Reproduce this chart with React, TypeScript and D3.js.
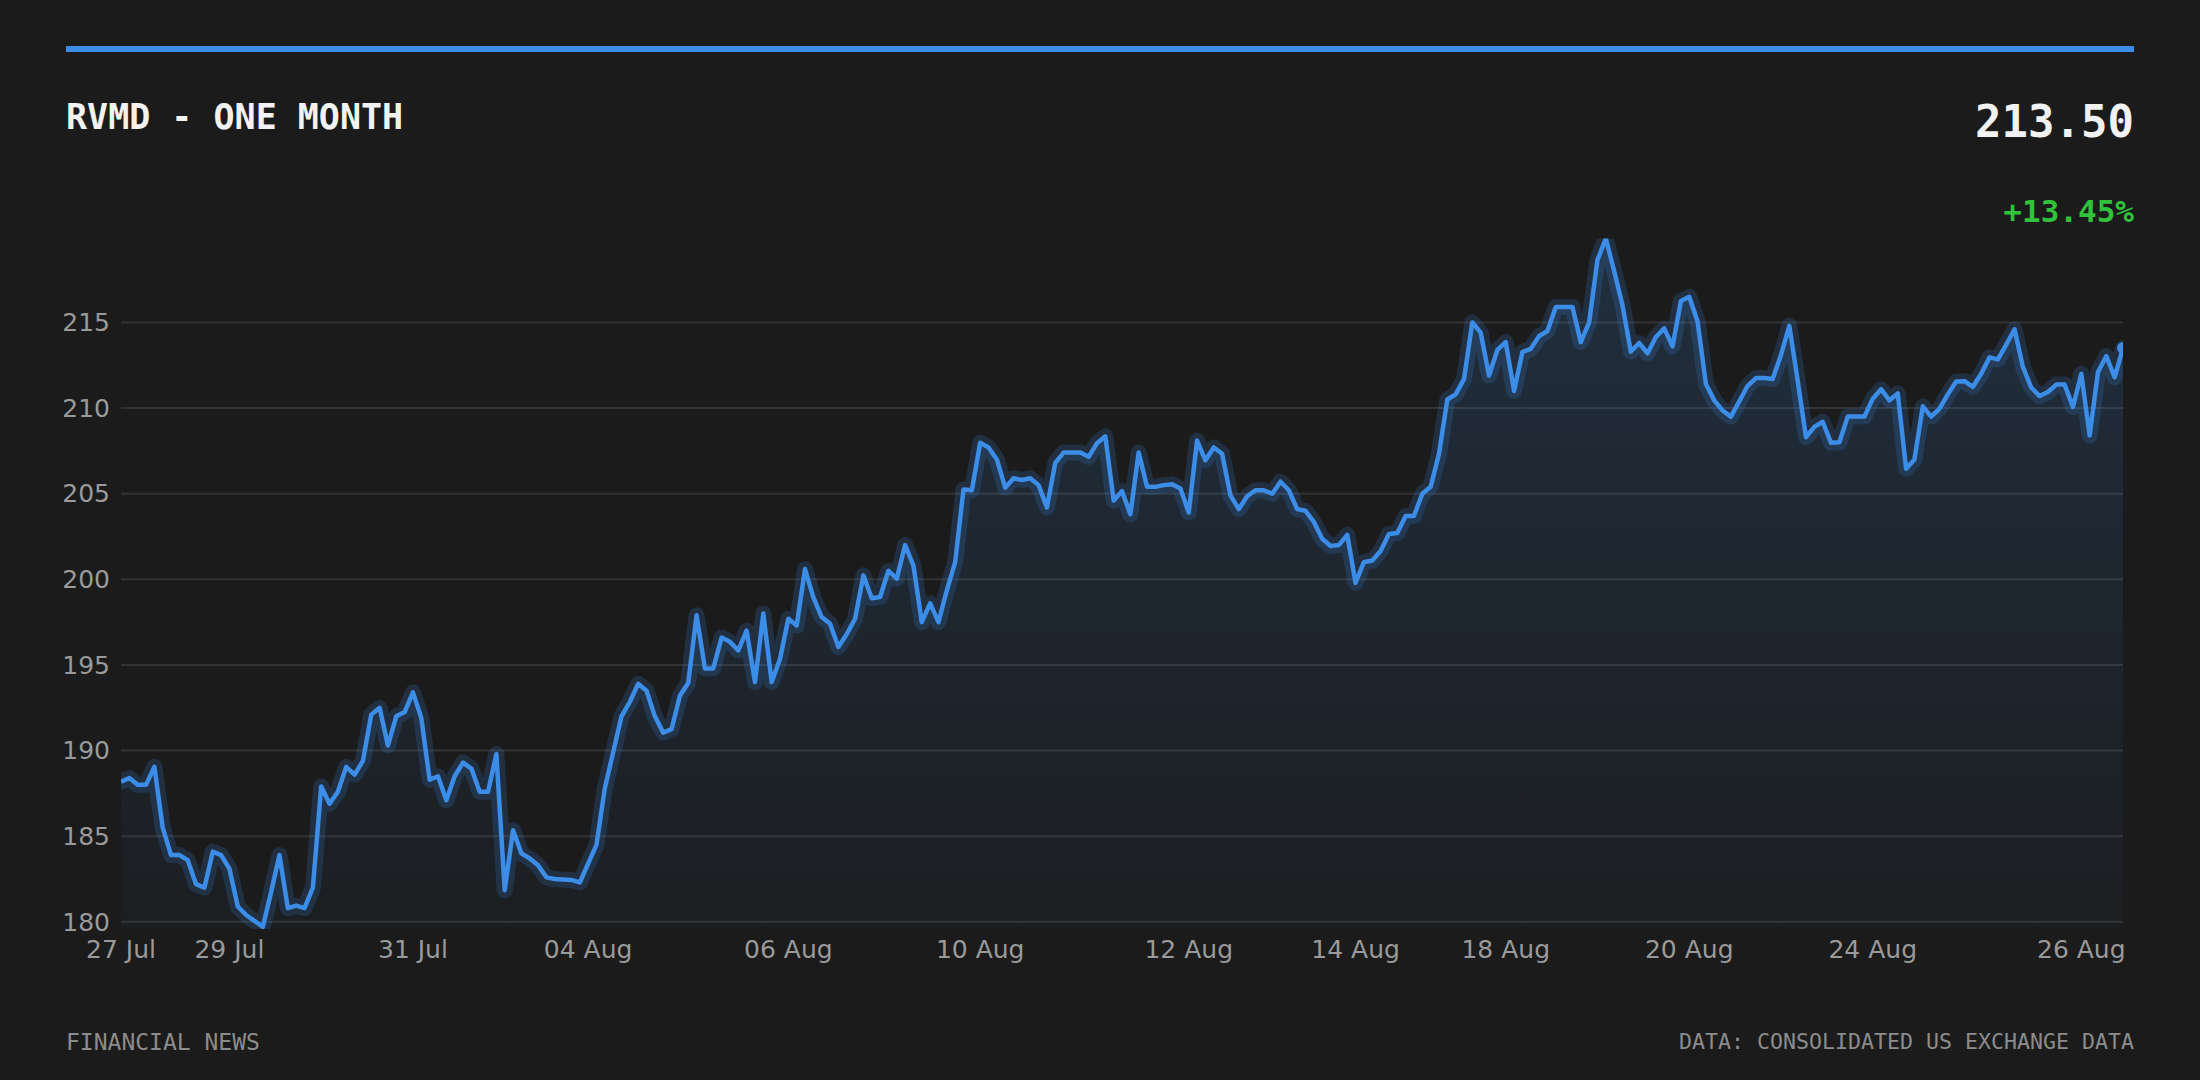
import React from "react";
import * as d3 from "d3";

// RVMD closing prices, one month (intraday samples)
const prices = [
  188.19, 188.4, 188.0, 188.0, 189.05, 185.5, 183.9, 183.9, 183.6, 182.2,
  182.0, 184.1, 183.9, 183.1, 180.9, 180.4, 180.06, 179.7, 181.75, 183.9,
  180.8, 180.95, 180.8, 182.0, 187.9, 186.9, 187.6, 189.05, 188.6, 189.4,
  192.1, 192.5, 190.3, 192.0, 192.25, 193.4, 191.9, 188.3, 188.5, 187.1,
  188.5, 189.3, 188.95, 187.6, 187.6, 189.8, 181.85, 185.35, 184.0, 183.7,
  183.3, 182.6, 182.5, 182.47, 182.45, 182.3, 183.4, 184.5, 187.8, 189.9,
  192.0, 192.85, 193.9, 193.5, 192.0, 191.05, 191.25, 193.2, 193.95, 197.9,
  194.8, 194.8, 196.6, 196.35, 195.85, 197.0, 194.0, 198.0, 194.0, 195.35,
  197.7, 197.3, 200.6, 198.95, 197.8, 197.4, 196.05, 196.8, 197.7, 200.23,
  198.9, 198.97, 200.5, 200.04, 202.0, 200.8, 197.5, 198.6, 197.5, 199.36,
  201.0, 205.25, 205.2, 207.98, 207.7, 207.0, 205.35, 205.9, 205.8, 205.9,
  205.5, 204.2, 206.8, 207.4, 207.4, 207.4, 207.15, 207.95, 208.35, 204.6,
  205.15, 203.8, 207.4, 205.4, 205.4, 205.5, 205.55, 205.3, 203.9, 208.1,
  206.95, 207.7, 207.33, 204.9, 204.1, 204.85, 205.2, 205.2, 205.0, 205.7,
  205.2, 204.1, 204.0, 203.35, 202.37, 201.95, 202.0, 202.6, 199.8, 201.0,
  201.1, 201.65, 202.65, 202.7, 203.7, 203.7, 205.0, 205.4, 207.33, 210.5,
  210.8, 211.7, 215.0, 214.4, 211.9, 213.4, 213.85, 211.0, 213.27, 213.46,
  214.2, 214.5, 215.9, 215.9, 215.9, 213.85, 215.0, 218.65, 219.9, 218.0,
  216.0, 213.3, 213.8, 213.2, 214.15, 214.65, 213.6, 216.25, 216.5, 215.05,
  211.4, 210.45, 209.86, 209.5, 210.4, 211.3, 211.75, 211.75, 211.7, 213.1,
  214.8, 211.6, 208.3, 208.9, 209.2, 207.97, 208.0, 209.5, 209.5, 209.5,
  210.55, 211.1, 210.45, 210.85, 206.45, 207.0, 210.1, 209.5, 209.96, 210.8,
  211.55, 211.57, 211.24, 212.0, 212.96, 212.84, 213.7, 214.6, 212.4, 211.2,
  210.7, 210.94, 211.37, 211.37, 210.06, 212.0, 208.4, 212.1, 213.04, 211.8,
  213.5,
];

// x-axis: sample index where each date label sits
const tickIndex = [0, 13, 35, 56, 80, 103, 128, 148, 166, 188, 210, 235];
const tickLabels = [
  "27 Jul", "29 Jul", "31 Jul", "04 Aug", "06 Aug", "10 Aug",
  "12 Aug", "14 Aug", "18 Aug", "20 Aug", "24 Aug", "26 Aug",
];
const yTicks = [180, 185, 190, 195, 200, 205, 210, 215];

const W = 2200;
const H = 1080;
const plot = { left: 121, right: 2123, top: 238.5, bottom: 927 };
const BLUE = "#3b8de8";
const BG = "#1b1b1b";
const MONO = "'DejaVu Sans Mono', monospace";
const SANS = "'DejaVu Sans', sans-serif";

export default function App() {
  const x = d3
    .scaleLinear()
    .domain([0, prices.length - 1])
    .range([plot.left, plot.right]);

  const [lo, hi] = d3.extent(prices) as [number, number];
  const y = d3.scaleLinear().domain([lo, hi]).range([plot.bottom, plot.top]);

  const line = d3
    .line<number>()
    .x((_, i) => x(i))
    .y((d) => y(d));

  const area = d3
    .area<number>()
    .x((_, i) => x(i))
    .y0(plot.bottom)
    .y1((d) => y(d));

  const last = prices[prices.length - 1];
  const change = ((last - prices[0]) / prices[0]) * 100;

  return (
    <svg
      width={W}
      height={H}
      style={{ position: "absolute", left: 0, top: 0, display: "block" }}
    >
      <defs>
        <linearGradient
          id="fade"
          gradientUnits="userSpaceOnUse"
          x1={0}
          x2={0}
          y1={plot.top}
          y2={plot.bottom}
        >
          <stop offset="0%" stopColor={BLUE} stopOpacity={0.17} />
          <stop offset="100%" stopColor={BLUE} stopOpacity={0.03} />
        </linearGradient>
        <clipPath id="plot-clip">
          <rect
            x={plot.left}
            y={plot.top}
            width={plot.right - plot.left}
            height={plot.bottom - plot.top + 2}
          />
        </clipPath>
      </defs>

      <rect width={W} height={H} fill={BG} />

      {/* top accent bar */}
      <rect x={66} y={46} width={2068} height={6} fill={BLUE} />

      <text x={66} y={129} fill="#f2f2f2" fontFamily={MONO} fontWeight="bold" fontSize={35}>
        RVMD - ONE MONTH
      </text>
      <text
        x={2134}
        y={137}
        fill="#f2f2f2"
        fontFamily={MONO}
        fontWeight="bold"
        fontSize={44}
        textAnchor="end"
      >
        {last.toFixed(2)}
      </text>
      <text
        x={2134}
        y={222}
        fill="#2fc23a"
        fontFamily={MONO}
        fontWeight="bold"
        fontSize={31}
        textAnchor="end"
      >
        {(change >= 0 ? "+" : "") + change.toFixed(2) + "%"}
      </text>

      {/* grid + y labels */}
      {yTicks.map((t) => (
        <g key={t}>
          <line
            x1={plot.left}
            x2={plot.right}
            y1={y(t)}
            y2={y(t)}
            stroke="#333"
            strokeWidth={2}
          />
          <text
            x={plot.left - 11}
            y={y(t)}
            dy="0.35em"
            textAnchor="end"
            fill="#9a9a9a"
            fontFamily={SANS}
            fontSize={25}
          >
            {t}
          </text>
        </g>
      ))}

      <g clipPath="url(#plot-clip)">
        <path d={area(prices) ?? ""} fill="url(#fade)" />
        <path
          d={line(prices) ?? ""}
          fill="none"
          stroke={BLUE}
          strokeOpacity={0.18}
          strokeWidth={16}
          strokeLinejoin="round"
          strokeLinecap="round"
        />
        <path
          d={line(prices) ?? ""}
          fill="none"
          stroke={BLUE}
          strokeWidth={4.5}
          strokeLinejoin="round"
        />
        <circle cx={x(prices.length - 1)} cy={y(last)} r={6} fill={BLUE} />
      </g>

      {/* x labels */}
      {tickIndex.map((ti, k) => (
        <text
          key={ti}
          x={x(ti)}
          y={958}
          textAnchor="middle"
          fill="#9a9a9a"
          fontFamily={SANS}
          fontSize={25}
        >
          {tickLabels[k]}
        </text>
      ))}

      <text x={66} y={1050} fill="#8c8c8c" fontFamily={MONO} fontSize={23}>
        FINANCIAL NEWS
      </text>
      <text
        x={2134}
        y={1049}
        fill="#8c8c8c"
        fontFamily={MONO}
        fontSize={21.6}
        textAnchor="end"
      >
        DATA: CONSOLIDATED US EXCHANGE DATA
      </text>
    </svg>
  );
}
